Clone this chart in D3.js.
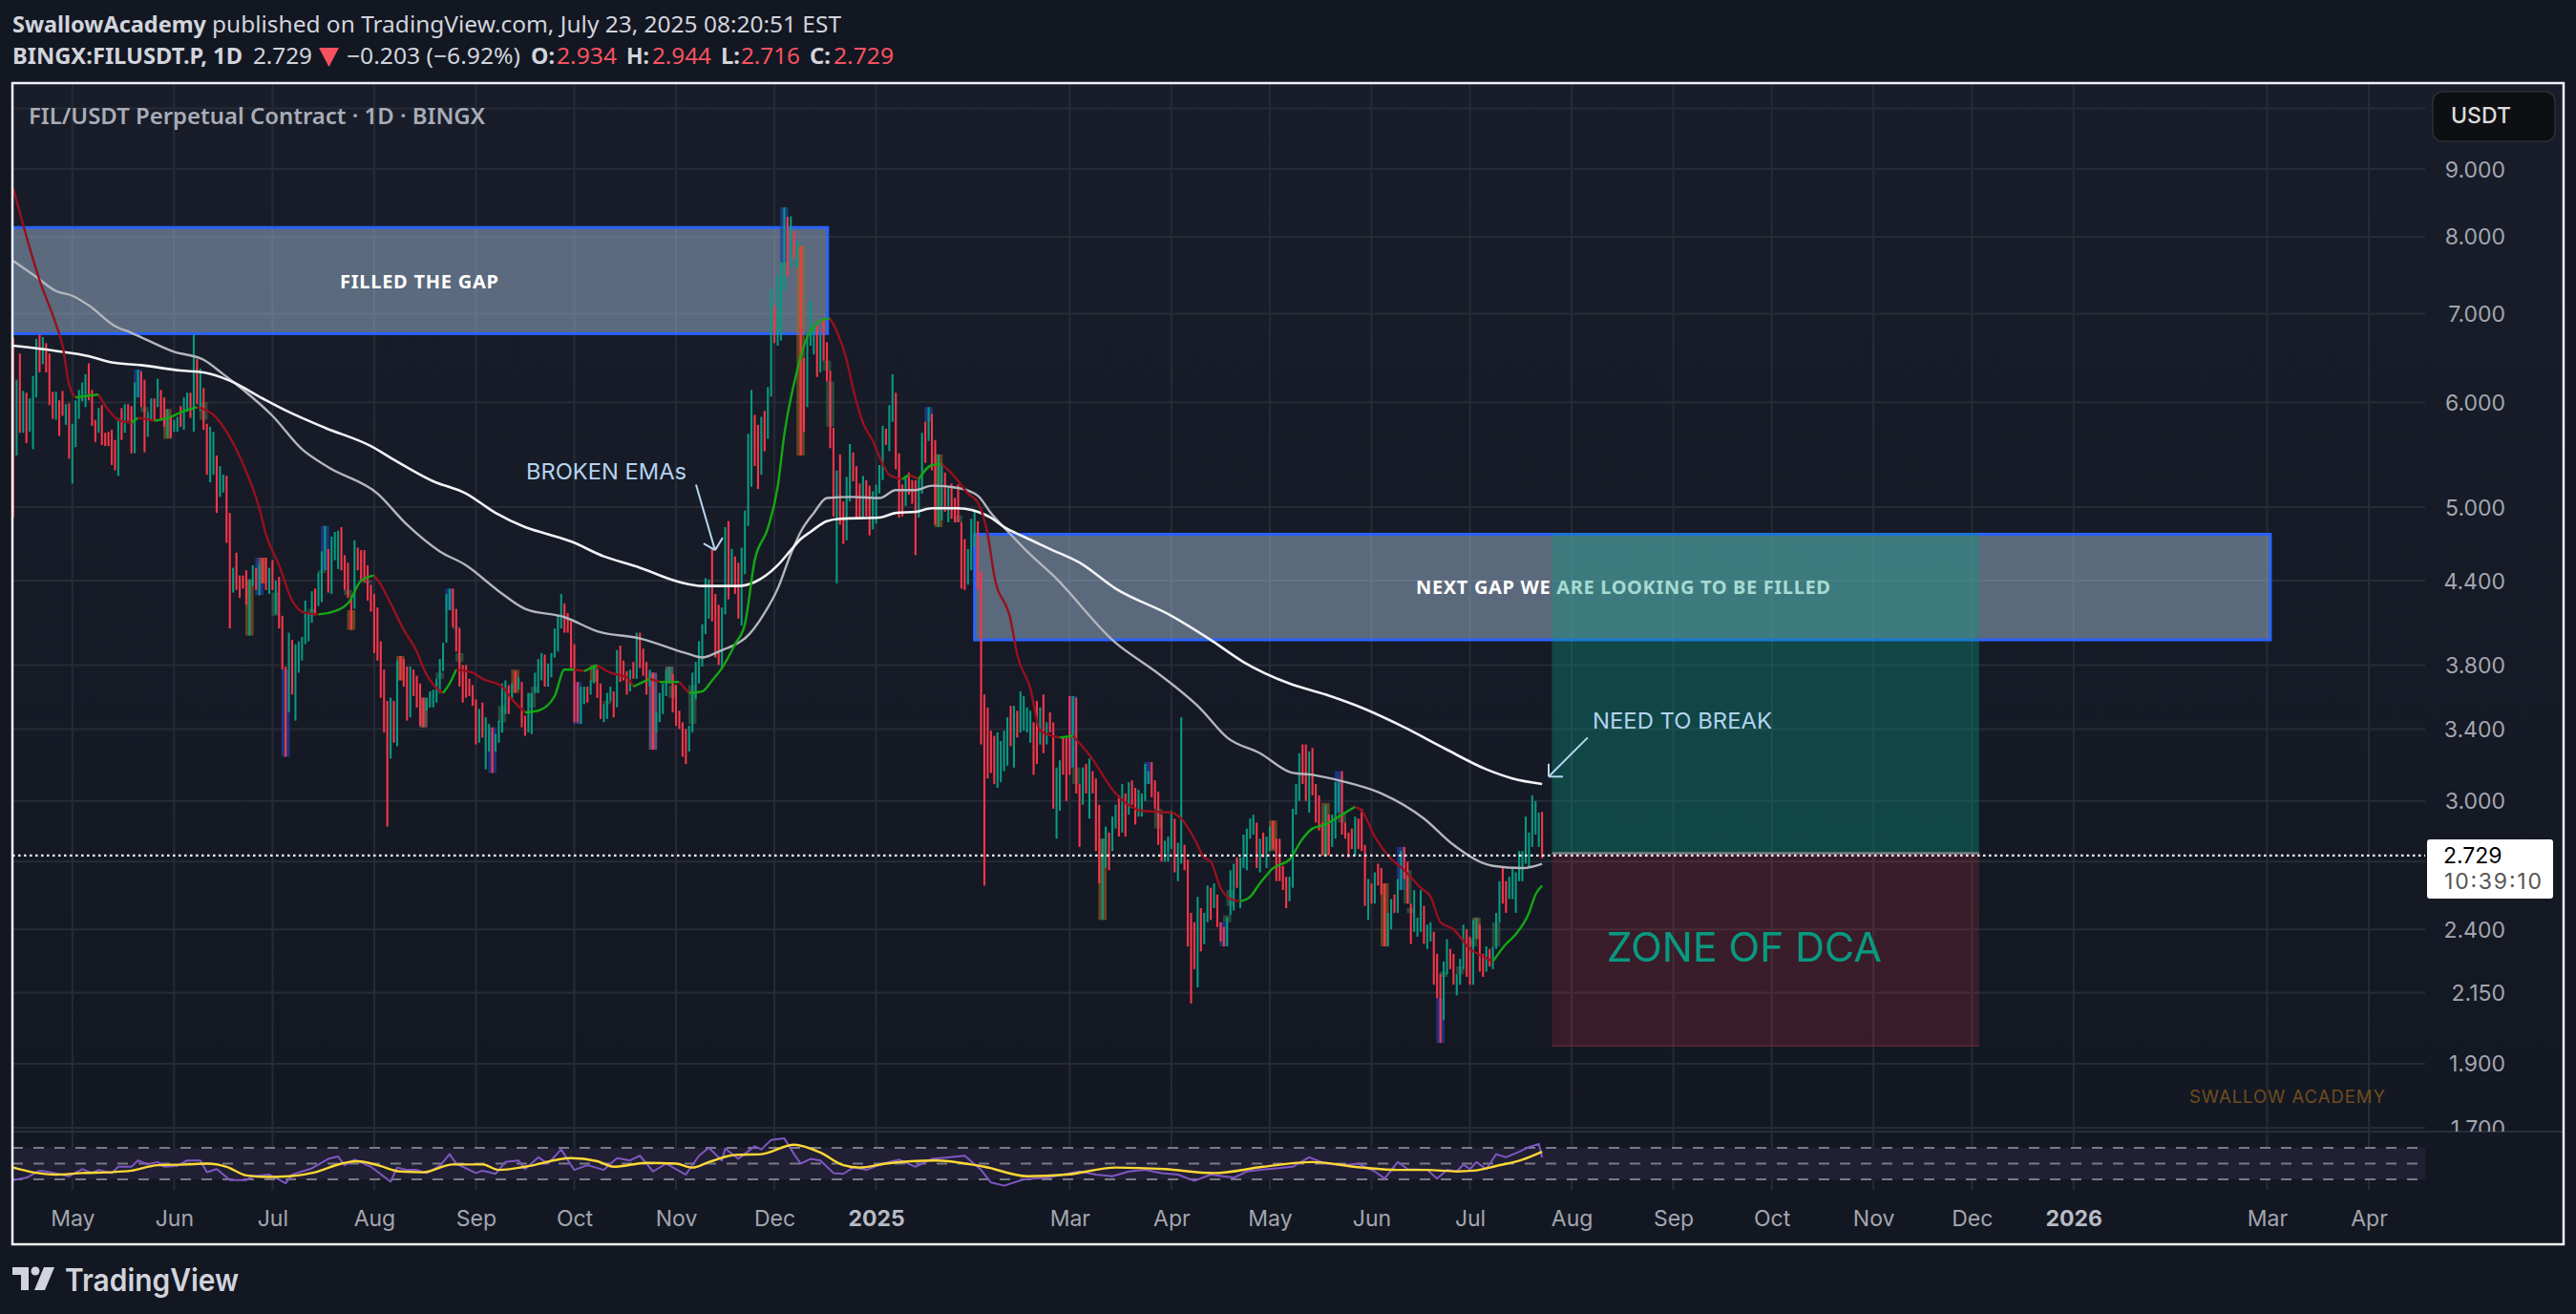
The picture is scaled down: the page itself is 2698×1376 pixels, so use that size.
<!DOCTYPE html>
<html><head><meta charset="utf-8"><title>FIL/USDT</title>
<script src="https://cdn.jsdelivr.net/npm/d3@7"></script>
<style>html,body{margin:0;padding:0;background:#131722;overflow:hidden}svg{display:block}text{dominant-baseline:central}</style>
</head><body><svg id="c" width="2698" height="1376"></svg>
<script>
// ---- data ----
const priceTicks=[9,8,7,6,5,4.4,3.8,3.4,3,2.4,2.15,1.9,1.7];
const gridOnlyTicks=[10,2.7];
const monthTicks=[["2024-05-01","May"],["2024-06-01","Jun"],["2024-07-01","Jul"],["2024-08-01","Aug"],["2024-09-01","Sep"],["2024-10-01","Oct"],["2024-11-01","Nov"],["2024-12-01","Dec"],["2025-01-01","2025"],["2025-03-01","Mar"],["2025-04-01","Apr"],["2025-05-01","May"],["2025-06-01","Jun"],["2025-07-01","Jul"],["2025-08-01","Aug"],["2025-09-01","Sep"],["2025-10-01","Oct"],["2025-11-01","Nov"],["2025-12-01","Dec"],["2026-01-01","2026"],["2026-03-01","Mar"],["2026-04-01","Apr"]];
const barHigh=[6.71,6.24,6.53,6.12,6.10,6.04,6.28,6.70,6.75,6.72,
6.65,6.53,6.11,6.11,6.02,6.12,5.98,5.99,5.78,6.02,
6.13,6.21,6.30,6.42,6.13,5.82,5.94,5.97,5.69,5.70,
5.72,5.62,5.84,5.94,5.98,5.98,5.96,6.21,6.35,6.33,
6.24,5.90,6.04,6.04,6.25,6.13,6.05,5.93,5.85,5.82,
5.85,5.96,6.05,6.10,6.10,6.75,6.47,6.36,6.15,5.78,
5.75,5.70,5.47,5.37,5.29,5.28,4.95,4.50,4.62,4.44,
4.44,4.48,4.41,4.52,4.50,4.53,4.58,4.58,4.50,4.56,
4.40,4.43,4.14,3.79,4.02,3.97,3.94,3.96,3.99,4.25,
4.16,4.32,4.34,4.46,4.63,4.84,4.65,4.75,4.79,4.80,
4.83,4.60,4.54,4.29,4.72,4.66,4.64,4.64,4.52,4.37,
4.30,4.20,3.96,3.77,3.57,3.59,3.57,3.83,3.86,3.84,
3.79,3.79,3.77,3.73,3.68,3.59,3.59,3.63,3.64,3.71,
3.84,3.95,4.30,4.34,4.34,4.19,4.05,3.80,3.80,3.71,
3.67,3.58,3.52,3.56,3.47,3.43,3.41,3.37,3.45,3.68,
3.70,3.67,3.68,3.76,3.72,3.69,3.48,3.62,3.62,3.75,
3.84,3.88,3.87,3.81,3.88,4.05,4.15,4.30,4.23,4.16,
4.10,3.94,3.69,3.66,3.66,3.66,3.70,3.80,3.77,3.68,
3.55,3.62,3.66,3.63,3.90,3.93,3.83,3.76,3.77,3.82,
4.02,4.02,3.91,3.82,3.77,3.75,3.50,3.62,3.68,3.77,
3.79,3.74,3.67,3.51,3.44,3.40,3.42,3.75,3.82,3.96,
4.08,4.42,4.41,4.66,4.30,4.22,4.20,4.83,4.88,4.65,
4.59,4.54,4.66,4.97,5.68,6.13,5.87,5.77,5.85,5.91,
6.16,7.31,7.10,7.47,7.65,8.42,8.28,8.29,8.08,7.95,
7.87,6.48,6.77,7.15,6.85,6.85,6.76,6.95,6.66,6.34,
5.74,5.33,5.48,5.05,5.27,5.58,5.50,5.37,5.21,5.28,
5.24,5.19,5.14,5.20,5.38,5.76,5.73,5.97,6.30,6.10,
5.49,5.20,5.28,5.31,5.24,5.24,5.25,5.69,5.80,5.95,
5.88,5.62,5.48,5.39,5.31,5.17,5.21,5.08,5.20,4.87,
4.73,4.65,4.90,4.97,4.88,4.47,3.61,3.53,3.39,3.36,
3.38,3.33,3.39,3.47,3.54,3.54,3.51,3.63,3.60,3.53,
3.51,3.44,3.57,3.53,3.61,3.44,3.50,3.44,3.18,3.22,
3.35,3.35,3.60,3.60,3.59,3.09,3.18,3.20,3.23,3.16,
3.12,2.98,2.81,2.87,2.84,2.92,2.98,3.03,3.09,3.04,
3.10,3.11,3.07,3.06,3.04,3.20,3.16,3.21,3.11,3.05,
2.93,2.80,2.82,2.95,2.91,2.79,3.47,2.78,2.71,2.47,
2.43,2.54,2.49,2.47,2.59,2.58,2.60,2.55,2.43,2.41,
2.45,2.66,2.69,2.72,2.72,2.83,2.86,2.91,2.93,2.89,
2.81,2.84,2.82,2.87,2.90,2.81,2.81,2.68,2.63,2.63,
2.96,3.09,3.26,3.31,3.31,3.27,3.29,3.09,3.03,2.89,
2.98,2.93,2.93,3.10,3.10,3.16,2.89,2.84,2.86,2.92,
2.91,2.96,2.78,2.62,2.60,2.65,2.69,2.67,2.60,2.47,
2.53,2.55,2.62,2.75,2.77,2.70,2.51,2.57,2.45,2.57,
2.50,2.42,2.43,2.39,2.30,2.22,2.27,2.36,2.32,2.30,
2.22,2.28,2.42,2.40,2.37,2.44,2.45,2.42,2.30,2.33,
2.32,2.33,2.47,2.61,2.67,2.61,2.63,2.67,2.65,2.75,
2.75,2.92,2.84,3.03,3.00,2.94,2.944];
const barLow=[4.91,5.47,5.69,5.69,5.59,5.70,5.53,6.05,6.32,6.41,
6.32,5.97,5.83,5.82,5.66,5.86,5.77,5.44,5.21,5.55,
5.83,6.01,5.95,6.02,5.76,5.60,5.69,5.57,5.56,5.56,
5.38,5.33,5.28,5.62,5.69,5.81,5.49,5.49,6.05,5.95,
5.50,5.65,5.81,5.81,5.95,5.82,5.75,5.64,5.64,5.70,
5.70,5.75,5.72,5.90,5.84,5.70,5.98,5.91,5.72,5.29,
5.22,5.29,4.95,5.09,5.13,4.70,4.05,4.31,4.33,4.27,
4.34,4.22,4.00,4.36,4.33,4.29,4.38,4.33,4.30,4.33,
4.15,4.05,3.77,3.24,3.50,3.61,3.45,3.75,3.83,3.94,
3.96,4.09,4.15,4.21,4.24,4.48,4.31,4.30,4.56,4.49,
4.48,4.33,4.27,4.04,4.19,4.48,4.39,4.39,4.25,4.17,
3.88,3.83,3.59,3.38,2.87,3.23,3.32,3.30,3.70,3.66,
3.45,3.47,3.60,3.53,3.42,3.41,3.51,3.53,3.53,3.56,
3.62,3.76,3.95,4.18,4.06,3.89,3.66,3.56,3.59,3.60,
3.54,3.31,3.32,3.35,3.17,3.27,3.15,3.27,3.32,3.38,
3.49,3.49,3.58,3.62,3.64,3.41,3.36,3.38,3.37,3.62,
3.62,3.70,3.66,3.66,3.72,3.85,3.89,4.05,4.02,4.02,
3.78,3.44,3.44,3.43,3.55,3.56,3.61,3.68,3.59,3.46,
3.44,3.46,3.57,3.47,3.53,3.69,3.70,3.61,3.63,3.71,
3.71,3.78,3.73,3.61,3.66,3.28,3.38,3.44,3.49,3.60,
3.68,3.50,3.42,3.40,3.24,3.20,3.27,3.38,3.58,3.68,
3.79,4.01,4.12,4.10,3.85,3.80,3.78,4.15,4.26,4.36,
4.30,4.12,4.07,4.45,4.84,5.18,5.37,5.16,5.29,5.51,
5.63,6.06,6.65,6.62,6.68,7.30,7.47,7.59,7.71,7.58,
5.47,5.70,5.95,6.62,6.52,6.27,6.32,6.45,6.22,5.54,
4.92,4.38,4.85,4.69,4.72,5.05,5.23,4.91,4.90,4.91,
4.92,4.76,4.81,4.86,5.12,5.24,5.57,5.51,5.80,5.34,
4.91,4.92,5.01,5.11,5.03,4.60,4.91,5.12,5.40,5.61,
5.33,4.85,4.83,4.89,4.96,4.87,4.90,4.87,4.87,4.34,
4.33,4.37,4.48,4.67,4.33,3.31,2.59,3.12,3.15,3.09,
3.07,3.10,3.16,3.19,3.30,3.18,3.35,3.38,3.39,3.38,
3.32,3.14,3.20,3.31,3.26,3.31,3.38,2.96,2.81,2.95,
3.14,3.00,3.14,3.18,3.04,2.77,2.98,3.04,2.91,3.04,
2.75,2.60,2.44,2.67,2.66,2.75,2.86,2.82,2.84,2.82,
2.93,2.98,2.88,2.92,2.92,3.00,3.09,3.02,2.96,2.78,
2.70,2.70,2.70,2.76,2.65,2.61,2.69,2.66,2.33,2.11,
2.24,2.17,2.31,2.34,2.43,2.44,2.49,2.41,2.35,2.33,
2.33,2.46,2.48,2.58,2.49,2.67,2.66,2.81,2.83,2.67,
2.65,2.72,2.67,2.75,2.76,2.61,2.61,2.57,2.49,2.52,
2.58,2.93,3.00,3.09,3.00,2.94,3.03,2.89,2.85,2.73,
2.73,2.73,2.77,2.81,2.94,2.83,2.81,2.72,2.76,2.73,
2.76,2.75,2.50,2.44,2.51,2.51,2.59,2.55,2.33,2.33,
2.40,2.47,2.47,2.57,2.62,2.51,2.34,2.39,2.37,2.39,
2.34,2.32,2.35,2.18,2.13,1.97,2.05,2.22,2.24,2.18,
2.14,2.18,2.24,2.21,2.18,2.18,2.36,2.23,2.21,2.23,
2.25,2.24,2.32,2.43,2.51,2.47,2.53,2.53,2.47,2.61,
2.61,2.69,2.67,2.77,2.83,2.77,2.716];
const barDir=("rgrgrgggrg"+"rrrgrrgrgg"+"gggrrrgrrr"+"rrgrgrrggr"+"rggrgrrgrg"+"grggrgrgrr"+"ggrggrrgrr"+"rrggrgrrgr"+"grrrgrgggg"+"ggrgggrggg"+
"rrrrgrrrrr"+"rrrrrgrgrr"+"rgrrrrgggg"+"ggggrrrrrr"+"rrgrggrggg"+"grgrgrrggg"+"ggrgggggrr"+"rrrggrggrr"+"gggrgrrrgr"+"grrrgrgggg"+
"grrrrrgggg"+"gggrrrggrg"+"rrggggrrgr"+"ggrgggrgrg"+"rrgggrgrrr"+"rgrrggrrrg"+"rrggggrggr"+"rrgrrrggrg"+"rrggrgrrrr"+"rgggrrrrrr"+
"ggggrgrggg"+"grrgrgrrgg"+"rrrgrrgrgr"+"rrggrggrgr"+"grrggggrrr"+"rgggrggrrr"+"rgrggrgrrr"+"gggrgggggr"+"grggrrrrrg"+"gggrrgrrrr"+
"grgggrrrrg"+"rrrgrgrrrg"+"grggrrrggg"+"rggrrrggrr"+"gggrrggrrg"+"rgggrrgggg"+"ggggggr");
// [bar index, price]
const emaSlow=[[0,6.62],[13,6.56],[23,6.50],[30,6.43],[39,6.40],[51,6.34],[58,6.32],[66,6.23],[76,6.04],[84,5.90],[95,5.74],[109,5.56],[116,5.43],[128,5.23],[138,5.12],[147,4.95],[156,4.83],[163,4.77],[170,4.71],[180,4.59],[190,4.51],[203,4.39],[210,4.36],[221,4.36],[226,4.39],[233,4.52],[237,4.64],[240,4.73],[243,4.79],[248,4.88],[252,4.90],[264,4.91],[269,4.95],[275,4.96],[280,4.99],[288,4.99],[294,4.96],[298,4.91],[302,4.83],[308,4.75],[316,4.65],[325,4.54],[336,4.34],[353,4.14],[365,3.97],[375,3.82],[389,3.68],[400,3.61],[412,3.52],[424,3.41],[436,3.29],[449,3.17],[457,3.12],[466,3.09]];
const emaMid=[[0,7.67],[7,7.46],[13,7.28],[18,7.22],[23,7.10],[31,6.85],[36,6.77],[49,6.55],[58,6.46],[64,6.30],[68,6.19],[79,5.86],[88,5.53],[96,5.36],[111,5.12],[120,4.85],[130,4.63],[138,4.52],[148,4.32],[156,4.19],[168,4.13],[178,4.03],[191,3.98],[205,3.88],[210,3.85],[215,3.89],[221,3.95],[223,3.98],[229,4.16],[233,4.34],[237,4.61],[240,4.79],[244,4.95],[248,5.08],[256,5.09],[264,5.08],[269,5.15],[275,5.15],[280,5.19],[288,5.17],[294,5.10],[298,4.95],[304,4.77],[309,4.63],[317,4.44],[336,3.95],[348,3.76],[362,3.52],[370,3.35],[380,3.26],[390,3.15],[396,3.14],[404,3.11],[417,3.04],[430,2.91],[439,2.78],[451,2.68],[460,2.67],[466,2.69]];
const emaFast=[[0,8.70],[8,7.42],[13,6.87],[15,6.62],[17,6.19],[19,6.05],[21,6.06],[26,6.08],[29,5.92],[32,5.82],[36,5.79],[38,5.84],[43,5.81],[48,5.85],[52,5.91],[56,5.95],[61,5.87],[65,5.70],[70,5.39],[75,4.99],[77,4.77],[81,4.52],[85,4.25],[89,4.16],[93,4.15],[96,4.16],[102,4.23],[106,4.40],[110,4.44],[112,4.37],[115,4.23],[119,4.04],[123,3.89],[125,3.78],[129,3.65],[131,3.62],[133,3.68],[135,3.77],[140,3.75],[143,3.71],[149,3.66],[152,3.58],[156,3.50],[160,3.51],[165,3.60],[168,3.77],[171,3.77],[174,3.76],[178,3.80],[182,3.75],[187,3.72],[189,3.66],[194,3.71],[197,3.69],[203,3.69],[206,3.62],[210,3.63],[213,3.70],[216,3.78],[220,3.94],[223,4.08],[226,4.56],[230,4.82],[233,5.18],[235,5.67],[239,6.35],[242,6.72],[247,6.93],[249,6.94],[251,6.79],[254,6.46],[256,6.14],[259,5.79],[262,5.61],[265,5.39],[267,5.29],[271,5.25],[273,5.29],[276,5.25],[280,5.38],[283,5.39],[287,5.27],[291,5.12],[294,5.04],[297,4.77],[299,4.44],[304,4.11],[306,3.87],[310,3.65],[313,3.39],[319,3.35],[323,3.36],[328,3.25],[336,3.04],[344,2.95],[353,2.94],[356,2.91],[360,2.81],[363,2.72],[365,2.70],[368,2.58],[371,2.53],[374,2.52],[377,2.54],[380,2.60],[384,2.67],[389,2.71],[393,2.81],[396,2.86],[400,2.88],[404,2.92],[409,2.97],[411,2.95],[415,2.82],[419,2.73],[424,2.66],[429,2.58],[432,2.54],[435,2.43],[439,2.40],[444,2.32],[448,2.29],[451,2.27],[455,2.34],[458,2.38],[462,2.47],[464,2.55],[466,2.59]];
// [bar index, RSI]
const rsiLine=[[0,29],[4,32],[8,41],[10,40],[17,34],[21,43],[24,38],[26,42],[30,38],[32,46],[36,46],[38,54],[41,49],[44,52],[46,46],[50,47],[53,54],[57,54],[59,39],[62,43],[64,36],[66,29],[71,29],[73,34],[78,36],[80,32],[83,25],[85,36],[91,44],[96,56],[99,59],[101,48],[104,55],[109,46],[115,27],[117,45],[120,42],[123,42],[126,38],[130,47],[133,62],[135,50],[141,38],[143,41],[147,37],[150,52],[154,54],[156,43],[160,58],[163,50],[167,68],[170,48],[171,42],[175,48],[180,42],[184,57],[188,54],[191,60],[195,40],[199,50],[205,36],[209,60],[212,70],[216,54],[217,69],[221,56],[226,72],[228,68],[231,80],[235,82],[238,62],[240,50],[243,56],[246,54],[250,38],[253,37],[256,45],[260,42],[265,50],[270,55],[275,46],[280,56],[285,58],[290,60],[295,42],[298,26],[302,22],[308,30],[315,32],[320,36],[325,40],[330,36],[335,34],[340,40],[345,42],[350,38],[355,36],[360,28],[365,36],[372,32],[376,40],[380,42],[385,44],[390,46],[395,58],[400,50],[405,48],[410,50],[415,40],[418,31],[422,52],[425,43],[431,42],[434,31],[437,42],[440,40],[442,49],[444,43],[446,52],[449,43],[452,62],[455,58],[459,65],[462,71],[465,75],[466,58]];
const rsiMa=[[0,45],[6,39],[13,36],[21,38],[29,39],[36,41],[44,48],[53,49],[59,50],[65,46],[71,35],[78,33],[84,34],[92,39],[100,50],[105,53],[111,48],[118,40],[125,39],[134,49],[143,49],[148,42],[156,46],[170,57],[178,53],[183,46],[193,51],[202,50],[207,45],[212,52],[220,61],[228,62],[238,74],[246,64],[253,48],[258,45],[266,50],[281,54],[296,46],[309,34],[321,36],[336,45],[351,43],[366,38],[381,46],[396,52],[411,45],[422,42],[431,42],[440,40],[445,41],[452,47],[460,55],[466,65]];
// [bar index, high price, low price, kind]
const flagBoxes=[[38,6.35,6.05,"b"],[40,5.95,5.90,"g"],[47,5.93,5.63,"o"],[58,6.00,5.82,"g"],[72,4.41,4.00,"o"],[75,4.58,4.29,"b"],[76,4.58,4.38,"o"],[80,4.31,4.14,"g"],[83,3.77,3.24,"b"],[91,4.19,4.14,"g"],[94,4.48,4.46,"g"],[95,4.84,4.48,"b"],[102,4.33,4.29,"g"],[103,4.18,4.04,"o"],[108,4.40,4.38,"g"],[118,3.86,3.70,"o"],[125,3.59,3.41,"p"],[130,3.75,3.71,"g"],[133,4.34,4.18,"b"],[135,4.06,4.05,"g"],[136,3.88,3.82,"g"],[146,3.41,3.15,"b"],[149,3.54,3.44,"g"],[153,3.77,3.62,"o"],[158,3.62,3.53,"g"],[159,3.66,3.62,"g"],[172,3.69,3.43,"b"],[177,3.80,3.69,"o"],[181,3.57,3.55,"g"],[195,3.75,3.28,"v"],[200,3.79,3.68,"p"],[201,3.67,3.59,"g"],[207,3.67,3.43,"g"],[235,8.42,7.65,"b"],[240,7.87,5.47,"o"],[248,6.45,6.34,"g"],[249,6.22,5.75,"g"],[279,5.95,5.80,"b"],[282,5.48,4.83,"o"],[288,4.93,4.87,"g"],[323,3.60,3.18,"b"],[324,3.18,3.09,"g"],[332,2.81,2.44,"o"],[346,3.21,3.09,"b"],[349,2.96,2.86,"g"],[369,2.43,2.33,"b"],[370,2.46,2.43,"g"],[371,2.57,2.50,"g"],[384,2.90,2.75,"o"],[400,2.99,2.73,"o"],[404,3.16,2.94,"b"],[405,2.94,2.89,"g"],[418,2.60,2.33,"o"],[423,2.77,2.57,"b"],[425,2.66,2.51,"g"],[426,2.49,2.47,"g"],[435,2.13,1.97,"b"],[436,2.23,2.21,"g"],[441,2.25,2.22,"g"],[445,2.36,2.33,"g"],[446,2.45,2.36,"o"],[452,2.43,2.33,"g"]];
const gapFilled={from:-0.3,to:248.2,top:8.13,bottom:6.76};
const gapNext={from:293,to:688,top:4.77,bottom:3.97};
const dcaZone={from:469,to:599.2,top:4.78,mid:2.74,bottom:1.96};
const lastPrice=2.729;

// ---- scales ----
const svg=d3.select("#c");
const LEFT=13,TOP=87,RIGHT=2685,BOTTOM=1303,PANE=2540;
const x=d3.scaleUtc().domain([new Date(Date.UTC(2024,4,1)),new Date(Date.UTC(2026,3,1))]).range([75.8,2481]);
const y=d3.scaleLog().domain([9,1.7]).range([177,1181]);
const rsiY=d3.scaleLinear().domain([70,30]).range([1202,1235]);
const base=Date.UTC(2024,3,13);
const xi=i=>x(new Date(base+i*864e5));
const barStep=xi(1)-xi(0);
const UP="#089981",DOWN="#f7364a";

const defs=svg.append("defs");
const lg=defs.append("linearGradient").attr("id","bg").attr("x1",0).attr("x2",0).attr("y1",0).attr("y2",1);
lg.append("stop").attr("offset","0%").attr("stop-color","#181d29");
lg.append("stop").attr("offset","100%").attr("stop-color","#131722");
defs.append("clipPath").attr("id","pane").append("rect").attr("x",LEFT).attr("y",TOP).attr("width",PANE-LEFT).attr("height",1185-TOP);
defs.append("clipPath").attr("id","rsiclip").append("rect").attr("x",LEFT).attr("y",1185).attr("width",PANE-LEFT).attr("height",62);
defs.append("clipPath").attr("id","axisclipLocal").append("rect").attr("x",-20).attr("y",TOP).attr("width",140).attr("height",1185-TOP);

svg.append("rect").attr("width",2698).attr("height",1376).attr("fill","#131722");
svg.append("rect").attr("x",LEFT).attr("y",TOP).attr("width",RIGHT-LEFT).attr("height",BOTTOM-TOP).attr("fill","url(#bg)");

// grid
const grid=svg.append("g").attr("stroke","#272b36").attr("stroke-width",2);
grid.selectAll(".h").data(priceTicks.concat(gridOnlyTicks)).join("line").attr("class","h").attr("x1",LEFT).attr("x2",PANE).attr("y1",d=>y(d)).attr("y2",d=>y(d));
grid.selectAll(".v").data(monthTicks).join("line").attr("class","v").attr("x1",d=>x(new Date(d[0]))).attr("x2",d=>x(new Date(d[0]))).attr("y1",TOP).attr("y2",1246);
svg.append("line").attr("x1",LEFT).attr("x2",RIGHT).attr("y1",1185).attr("y2",1185).attr("stroke","#2a2e39").attr("stroke-width",2);

// RSI pane
svg.append("rect").attr("x",LEFT).attr("width",PANE-LEFT).attr("y",rsiY(70)).attr("height",rsiY(30)-rsiY(70)).attr("fill","#211f33");
svg.append("g").selectAll("line").data([70,50,30]).join("line").attr("x1",LEFT).attr("x2",PANE).attr("y1",d=>rsiY(d)).attr("y2",d=>rsiY(d))
  .attr("stroke","#787b86").attr("stroke-width",2).attr("stroke-dasharray","11 11");
const rsiG=svg.append("g").attr("clip-path","url(#rsiclip)").attr("fill","none").attr("stroke-linejoin","round");
const rl=d3.line().x(d=>xi(d[0])).y(d=>rsiY(d[1]));
rsiG.append("path").attr("d",rl(rsiLine)).attr("stroke","#7e57c2").attr("stroke-width",2);
rsiG.append("path").attr("d",rl.curve(d3.curveMonotoneX)(rsiMa)).attr("stroke","#fdd835").attr("stroke-width",2.4);

// gap zones
const pane=svg.append("g").attr("clip-path","url(#pane)");
function gap(g){pane.append("rect").attr("x",xi(g.from)).attr("width",xi(g.to)-xi(g.from)).attr("y",y(g.top)).attr("height",y(g.bottom)-y(g.top))
  .attr("fill","rgba(175,201,230,0.45)").attr("stroke","#2962ff").attr("stroke-width",3);}
gap(gapFilled);gap(gapNext);

// flagged boxes behind bars
const boxFill={b:"rgba(32,64,160,0.72)",o:"rgba(168,104,30,0.55)",g:"rgba(70,140,90,0.42)",p:"rgba(170,140,120,0.5)",v:"rgba(150,130,190,0.55)"};
pane.append("g").selectAll("rect").data(flagBoxes).join("rect")
  .attr("x",d=>xi(d[0])-barStep*1.25).attr("width",barStep*2.5).attr("y",d=>y(d[1])).attr("height",d=>Math.max(2,y(d[2])-y(d[1]))).attr("fill",d=>boxFill[d[3]]);

// bars
pane.append("g").attr("stroke-width",2.1).selectAll("line").data(barHigh.map((h,i)=>({i,h,l:barLow[i],d:barDir[i]}))).join("line")
  .attr("x1",d=>xi(d.i)).attr("x2",d=>xi(d.i)).attr("y1",d=>y(d.h)).attr("y2",d=>y(d.l)).attr("stroke",d=>d.d==="g"?UP:DOWN);

// moving averages
const ml=d3.line().x(d=>xi(d[0])).y(d=>y(d[1])).curve(d3.curveMonotoneX);
pane.append("path").attr("d",ml(emaMid)).attr("fill","none").attr("stroke","#b4b6bd").attr("stroke-width",2.4);
pane.append("path").attr("d",ml(emaSlow)).attr("fill","none").attr("stroke","#f2f3f5").attr("stroke-width",2.6);
let runs=[],cur=null;
for(let k=1;k<emaFast.length;k++){const up=emaFast[k][1]>=emaFast[k-1][1];
  if(!cur||cur.up!==up){cur={up,pts:[emaFast[k-1]]};runs.push(cur);}
  cur.pts.push(emaFast[k]);}
pane.append("g").selectAll("path").data(runs).join("path").attr("d",d=>ml(d.pts)).attr("fill","none").attr("stroke",d=>d.up?"#14a714":"#98101d").attr("stroke-width",2.4);

// gap labels
const FONT="Inter, 'Noto Sans', sans-serif";
const ann=svg.append("g").attr("font-family",FONT);
ann.append("text").attr("x",xi(123.7)).attr("y",y(7.41)).attr("text-anchor","middle").attr("font-size",20).attr("font-weight",700).attr("font-family","'Noto Sans'").attr("fill","#fff").attr("textLength",166).text("FILLED THE GAP");
ann.append("text").attr("x",xi(490.7)).attr("y",y(4.35)).attr("text-anchor","middle").attr("font-size",20).attr("font-weight",700).attr("font-family","'Noto Sans'").attr("fill","#fff").attr("textLength",434).text("NEXT GAP WE ARE LOOKING TO BE FILLED");

// position tool on top of the gap
const dz=dcaZone,zx=xi(dz.from),zw=xi(dz.to)-xi(dz.from);
svg.append("rect").attr("x",zx).attr("width",zw).attr("y",y(dz.top)).attr("height",y(dz.mid)-y(dz.top)).attr("fill","rgba(8,153,129,0.36)");
svg.append("rect").attr("x",zx).attr("width",zw).attr("y",y(dz.mid)).attr("height",y(dz.bottom)-y(dz.mid)).attr("fill","rgba(242,54,69,0.17)");
svg.append("line").attr("x1",zx).attr("x2",zx+zw).attr("y1",y(dz.mid)).attr("y2",y(dz.mid)).attr("stroke","#787b86").attr("stroke-width",2.5);
svg.append("line").attr("x1",zx).attr("x2",zx+zw).attr("y1",y(dz.bottom)).attr("y2",y(dz.bottom)).attr("stroke","#5a2530").attr("stroke-width",1.5);

// last price line
svg.append("line").attr("x1",LEFT).attr("x2",PANE).attr("y1",y(lastPrice)).attr("y2",y(lastPrice)).attr("stroke","#fff").attr("stroke-width",2.2).attr("stroke-dasharray","2.5 3.5");

// callouts
const ANN="#b5d3ef";
function arrow(from,to,heads){const tx=xi(to[0]),ty=y(to[1]);
  svg.append("path").attr("d",`M${xi(from[0])},${y(from[1])}L${tx},${ty}`+heads.map(h=>`M${tx+h[0]},${ty+h[1]}L${tx},${ty}`).join("")).attr("fill","none").attr("stroke",ANN).attr("stroke-width",2);}
arrow([208.1,5.20],[213.9,4.64],[[-12,-7],[8,-13]]);
arrow([479.9,3.35],[468,3.13],[[0,-13.5],[15,0]]);
const calloutText=(t,i,p,size,col,w)=>svg.append("text").attr("x",xi(i)).attr("y",y(p)).attr("font-size",size).attr("font-family","Inter").attr("fill",col).attr("textLength",w).attr("lengthAdjust","spacingAndGlyphs").text(t);
calloutText("BROKEN EMAs",156.3,5.32,23,ANN,168);
calloutText("NEED TO BREAK",481.4,3.45,23,ANN,188);
calloutText("ZONE OF DCA",485.7,2.33,42,UP,288);
svg.append("text").attr("x",2293).attr("y",1148).attr("font-size",18.5).attr("font-family",FONT).attr("fill","#6e4d1e").attr("textLength",205).text("SWALLOW ACADEMY");

// price axis
const yAxis=d3.axisRight(y).tickValues(priceTicks).tickFormat(d3.format(".3f")).tickSize(0).tickPadding(0);
const ya=svg.append("g").attr("transform","translate(2558,0)").attr("clip-path","url(#axisclipLocal)").append("g").call(yAxis);
ya.select(".domain").remove();
ya.selectAll("text").attr("dy",0).attr("x",66).attr("text-anchor","end").attr("font-family",FONT).attr("font-size",23).attr("fill","#a3a6af");

// time axis
const labelOf=new Map(monthTicks.map(d=>[+new Date(d[0]),d[1]]));
const xAxis=d3.axisBottom(x).tickValues(monthTicks.map(d=>new Date(d[0]))).tickFormat(d=>labelOf.get(+d)).tickSize(0).tickPadding(0);
const xa=svg.append("g").attr("transform","translate(0,1276)").call(xAxis);
xa.select(".domain").remove();
xa.selectAll("text").attr("dy",0).attr("font-family",FONT).attr("font-size",23).attr("fill",function(){return /^20/.test(this.textContent)?"#b8bbc4":"#a3a6af";}).attr("font-weight",function(){return /^20/.test(this.textContent)?700:400;});

// USDT button
svg.append("rect").attr("x",2548).attr("y",96).attr("width",128).attr("height",52).attr("rx",10).attr("fill","#0e0f12").attr("stroke","#2e2f33").attr("stroke-width",1.5);
svg.append("text").attr("x",2567).attr("y",121).attr("font-family",FONT).attr("font-size",23).attr("font-weight",500).attr("fill","#dcdcdc").attr("textLength",63).text("USDT");

// last price badge
svg.append("rect").attr("x",2542).attr("y",879).attr("width",132).attr("height",62).attr("rx",3).attr("fill","#fff");
svg.append("text").attr("x",2559).attr("y",896).attr("font-family",FONT).attr("font-size",23).attr("fill","#000").text(d3.format(".3f")(lastPrice));
svg.append("text").attr("x",2560).attr("y",923).attr("font-family",FONT).attr("font-size",23).attr("fill","#555").attr("textLength",102).text("10:39:10");

// frame
svg.append("rect").attr("x",LEFT).attr("y",TOP).attr("width",RIGHT-LEFT).attr("height",BOTTOM-TOP).attr("fill","none").attr("stroke","#f2f3f5").attr("stroke-width",2.5);

// header
const HF="'Noto Sans', sans-serif";
function head(t,x0,w,yy,col,bold,size){svg.append("text").attr("x",x0).attr("y",yy).attr("font-family",HF).attr("font-size",size||23).attr("font-weight",bold?700:400).attr("fill",col).attr("textLength",w).attr("lengthAdjust","spacingAndGlyphs").text(t);}
const HC="#d1d4dc",RED="#f7525f";
head("SwallowAcademy",13,203,25,HC,true);
head("published on TradingView.com, July 23, 2025 08:20:51 EST",222,659,25,HC,false);
head("BINGX:FILUSDT.P, 1D",13,241,58,HC,true);
head("2.729",265,62,58,HC,false);
svg.append("path").attr("d","M334,50H355L344.5,70Z").attr("fill",RED);
head("−0.203 (−6.92%)",363,182,58,HC,false);
head("O:",556,25,58,HC,true);head("2.934",583,63,58,RED,false);
head("H:",656,24,58,HC,true);head("2.944",683,62,58,RED,false);
head("L:",755,20,58,HC,true);head("2.716",776,62,58,RED,false);
head("C:",848,22,58,HC,true);head("2.729",873,63,58,RED,false);
svg.append("text").attr("x",30).attr("y",120).attr("font-family",HF).attr("font-size",24).attr("font-weight",600).attr("fill","#a9acb7").attr("textLength",478).attr("lengthAdjust","spacingAndGlyphs").text("FIL/USDT Perpetual Contract · 1D · BINGX");

// logo
const lg2=svg.append("g").attr("fill","#d1d4dc");
lg2.append("path").attr("d","M13,1327H30V1351H22V1335H13Z");
lg2.append("circle").attr("cx",37).attr("cy",1331).attr("r",4.5);
lg2.append("path").attr("d","M46,1327H57L47,1351H36Z");
svg.append("text").attr("x",68).attr("y",1340).attr("font-family",FONT).attr("font-size",32).attr("font-weight",600).attr("fill","#d1d4dc").attr("textLength",182).attr("lengthAdjust","spacingAndGlyphs").text("TradingView");
</script></body></html>
